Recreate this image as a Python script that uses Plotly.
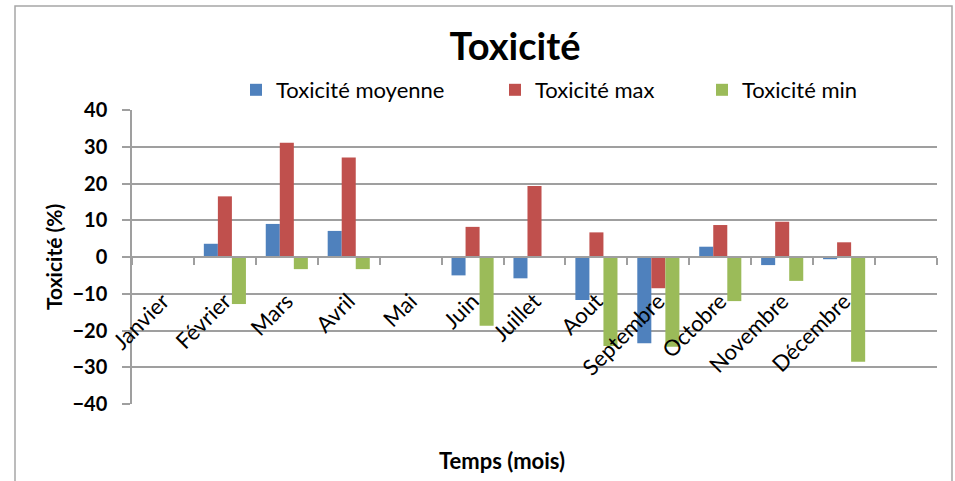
import plotly.graph_objects as go

# Monthly toxicity figures (%)
MONTHS = ["Janvier", "Février", "Mars", "Avril", "Mai", "Juin", "Juillet",
          "Aout", "Septembre", "Octobre", "Novembre", "Décembre"]
TOX_MOY = [None, 3.6, 9.0, 7.1, None, -5.0, -5.8, -11.7, -23.5, 2.8, -2.2, -0.6]
TOX_MAX = [None, 16.5, 31.1, 27.1, None, 8.2, 19.3, 6.7, -8.5, 8.7, 9.6, 4.0]
TOX_MIN = [None, -12.8, -3.3, -3.3, None, -18.7, None, -24.2, -24.4, -12.0, -6.5, -28.5]
Y_TICKS = [-40, -30, -20, -10, 0, 10, 20, 30, 40]

SERIES = [
    ("Toxicité moyenne", TOX_MOY, "#4F81BD", "legend"),
    ("Toxicité max", TOX_MAX, "#C0504D", "legend2"),
    ("Toxicité min", TOX_MIN, "#9BBB59", "legend3"),
]

# an extra empty slot after December, as in the original workbook
cats = MONTHS + [" "]

FONT = "Lato"
GRID = "#9f9f9f"

fig = go.Figure()
for name, vals, color, leg in SERIES:
    fig.add_trace(go.Bar(
        x=cats, y=list(vals) + [None], name=name,
        marker=dict(color=color, line=dict(width=0)),
        legend=leg, showlegend=True,
    ))

W, H = 955, 481
L, R, T, B = 132, 18, 110, 77
PW, PH = W - L - R, H - T - B

def legend_at(px):
    return dict(
        orientation="h", xref="container", yref="container",
        x=px / W, y=1 - 90 / H, xanchor="left", yanchor="middle",
        font=dict(family=FONT, size=22, color="#000000"),
        bgcolor="rgba(0,0,0,0)", borderwidth=0,
    )

fig.update_layout(
    width=W, height=H,
    margin=dict(l=L, r=R, t=T, b=B, autoexpand=False),
    paper_bgcolor="white", plot_bgcolor="white",
    showlegend=True,
    barmode="group", bargap=0.32, bargroupgap=0,
    font=dict(family=FONT, color="#000000"),
    title=dict(text="<b>Toxicité</b>", xref="container", yref="container",
               x=515 / W, y=1 - 47 / H, xanchor="center", yanchor="middle",
               font=dict(family=FONT, size=38, color="#000000")),
    legend=legend_at(236),
    legend2=legend_at(495),
    legend3=legend_at(702),
    xaxis=dict(
        type="category", categoryorder="array", categoryarray=cats,
        range=[-0.5, len(cats) - 0.5],
        anchor="free", position=0.5,
        showline=True, linecolor=GRID, linewidth=1.5,
        ticks="outside", tickson="boundaries", ticklen=7, tickcolor=GRID, tickwidth=1.5,
        tickangle=-45, ticklabelstandoff=22,
        tickfont=dict(family=FONT, size=22, color="#000000"),
        showgrid=False, zeroline=False,
    ),
    yaxis=dict(
        range=[-40, 40], tickmode="array", tickvals=Y_TICKS,
        showline=True, linecolor=GRID, linewidth=1.5,
        ticks="outside", ticklen=8, tickcolor=GRID, tickwidth=1.5,
        ticklabelstandoff=11,
        tickfont=dict(family=FONT, size=20, color="#000000", weight="bold"),
        showgrid=True, gridcolor=GRID, gridwidth=1.5,
        zeroline=False,
    ),
    annotations=[
        dict(text="<b>Toxicité (%)</b>", xref="paper", yref="paper",
             x=(53 - L) / PW, y=0.5, textangle=-90,
             showarrow=False, xanchor="center", yanchor="middle",
             font=dict(family=FONT, size=21, color="#000000")),
        dict(text="<b>Temps (mois)</b>", xref="paper", yref="paper",
             x=(502 - L) / PW, y=-(460 - (H - B)) / PH,
             showarrow=False, xanchor="center", yanchor="middle",
             font=dict(family=FONT, size=22, color="#000000")),
    ],
    shapes=[
        dict(type="rect", xref="paper", yref="paper",
             x0=(15 - L) / PW, x1=(952 - L) / PW,
             y0=-(490 - (H - B)) / PH, y1=1 + (T - 6) / PH,
             line=dict(color="#a6a6a6", width=1.5), fillcolor="rgba(0,0,0,0)",
             layer="below"),
    ],
)

fig.write_html("out.html")
